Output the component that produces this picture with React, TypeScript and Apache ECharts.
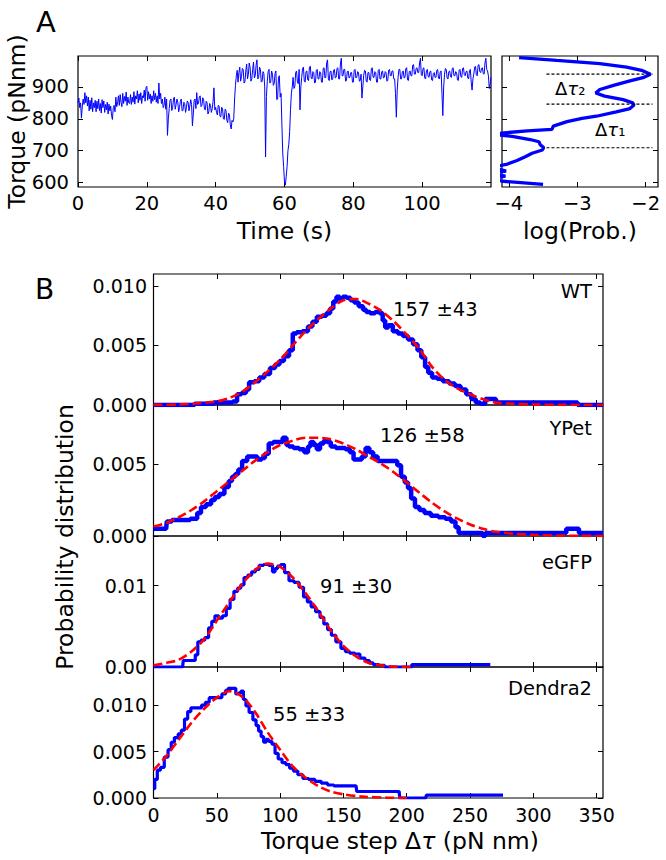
import React, { useEffect, useRef } from 'react';
import * as echarts from 'echarts';

// ---------- Panel A : torque trace (one sample every 0.25 s) ----------
const traceStep = 0.25;
const traceTorque = [
  850, 865, 835, 850, 802, 840, 862, 845, 882, 850, 872, 840, 868, 825, 858, 830, 866, 822, 850, 835,
  858, 822, 855, 832, 862, 826, 848, 818, 860, 835, 856, 820, 845, 828, 852, 815, 846, 825, 840, 810,
  798, 835, 842, 822, 868, 838, 850, 872, 842, 876, 852, 838, 880, 848, 870, 855, 884, 842, 868, 850,
  848, 876, 845, 868, 852, 885, 846, 872, 862, 888, 850, 878, 858, 882, 848, 872, 866, 890, 855, 898,
  902, 858, 885, 862, 878, 848, 872, 855, 888, 860, 880, 852, 872, 848, 912, 862, 880, 848, 862, 835,
  842, 868, 830, 862, 748, 800, 832, 858, 862, 826, 835, 862, 868, 830, 845, 862, 852, 822, 835, 855,
  862, 825, 826, 852, 848, 820, 835, 856, 852, 825, 840, 860, 845, 778, 815, 858, 862, 832, 882, 845,
  848, 868, 872, 838, 842, 866, 860, 830, 828, 855, 850, 815, 822, 848, 842, 820, 832, 855, 897, 828,
  836, 820, 812, 842, 840, 808, 806, 836, 832, 800, 798, 830, 826, 795, 788, 818, 812, 782, 768, 795,
  790, 800, 862, 905, 935, 952, 915, 945, 962, 918, 932, 958, 955, 912, 916, 950, 972, 925, 940, 975,
  962, 918, 925, 955, 978, 928, 935, 968, 985, 925, 930, 962, 955, 915, 918, 948, 942, 900, 680, 870,
  918, 948, 955, 912, 915, 950, 940, 905, 910, 942, 950, 860, 862, 930, 935, 868, 880, 780, 690, 650,
  600, 592, 620, 650, 700, 720, 760, 830, 880, 900, 930, 895, 900, 945, 950, 915, 910, 955, 828, 900,
  930, 958, 962, 918, 915, 948, 950, 922, 920, 962, 965, 928, 925, 948, 945, 912, 915, 952, 955, 925,
  925, 948, 945, 915, 915, 958, 960, 928, 930, 975, 985, 925, 920, 948, 950, 922, 925, 952, 955, 928,
  930, 958, 960, 925, 925, 972, 990, 935, 935, 955, 955, 918, 920, 948, 950, 928, 930, 945, 945, 915,
  915, 952, 955, 928, 930, 948, 945, 918, 920, 940, 865, 900, 935, 952, 950, 918, 915, 945, 945, 922,
  920, 958, 960, 930, 930, 948, 945, 915, 915, 952, 955, 925, 925, 948, 950, 928, 930, 948, 945, 918,
  920, 952, 955, 935, 935, 950, 950, 925, 925, 880, 805, 890, 930, 955, 955, 925, 925, 948, 950, 928,
  930, 958, 960, 922, 920, 948, 950, 935, 935, 968, 970, 940, 940, 958, 960, 945, 945, 975, 990, 938,
  935, 958, 960, 928, 925, 952, 955, 932, 930, 948, 950, 922, 920, 942, 945, 930, 930, 952, 955, 928,
  925, 948, 950, 880, 810, 900, 940, 958, 955, 928, 925, 948, 950, 932, 930, 958, 960, 935, 935, 948,
  945, 922, 920, 952, 955, 932, 930, 958, 960, 938, 935, 948, 950, 928, 925, 952, 955, 915, 890, 925,
  940, 962, 965, 938, 935, 968, 970, 948, 945, 958, 960, 942, 940, 975, 990, 955, 950, 935, 895, 910,
  930,
];

// ---------- Panel A : log(prob) vs torque ----------
const logProb = [
  -3.85, -3.30, -2.67, -2.28, -2.06, -1.93, -2.04, -2.23, -2.47, -2.67,
  -2.73, -2.60, -2.33, -2.19, -2.17, -2.23, -2.43, -2.72, -2.93, -3.15,
  -3.35, -3.37, -3.73, -4.07, -4.20, -3.93, -3.69, -3.56, -3.54, -3.49,
  -3.51, -3.66, -3.76, -3.88, -4.02, -4.25, -4.04, -4.30, -4.05, -4.30,
  -4.08, -3.50,
];
const logProbTorque = [
  992, 983, 973, 962, 952, 940, 929, 919, 905, 892,
  881, 871, 860, 850, 843, 832, 822, 808, 801, 791,
  777, 767, 762, 756, 751, 744, 735, 728, 718, 710,
  702, 692, 681, 669, 658, 648, 636, 630, 620, 612,
  604, 594,
];
const levelTorques = [940, 846, 709];
const levelSpan = [-3.45, -1.9];

// ---------- Panel B : torque-step distributions ----------
const stepNames = ['WT', 'YPet', 'eGFP', 'Dendra2'];
const stepFits = ['157 \u00b143', '126 \u00b158', '91 \u00b130', '55 \u00b133'];
const stepYMax = [0.0110, 0.00907, 0.0161, 0.0141];
const stepYTicks = [[0, 0.005, 0.01], [0, 0.005], [0, 0.01], [0, 0.005, 0.01]];
const stepYDecimals = [3, 3, 2, 3];

const wtHist = [
  [0, 0], [20, 0], [45, 0.0001], [50, 0.0002], [60, 0.0002], [65, 0.0003], [67, 0.0009], [72, 0.0010],
  [74, 0.0013], [77, 0.0019], [82, 0.0020], [85, 0.0023], [90, 0.0026], [94, 0.0031], [98, 0.0034],
  [101, 0.0037], [105, 0.0041], [109, 0.0046], [111, 0.0060], [115, 0.0061], [120, 0.0062], [124, 0.0066],
  [127, 0.0070], [131, 0.0074], [135, 0.0075], [138, 0.0077], [141, 0.0081], [143, 0.0087], [146, 0.0091],
  [148, 0.0089], [151, 0.0091], [154, 0.0090], [157, 0.0088], [160, 0.0086], [164, 0.0083], [167, 0.0080],
  [169, 0.0078], [173, 0.0077], [177, 0.0078], [180, 0.0077], [182, 0.0071], [184, 0.0065], [187, 0.0067],
  [191, 0.0062], [195, 0.0060], [199, 0.0058], [203, 0.0055], [207, 0.0051], [210, 0.0046], [213, 0.0040],
  [216, 0.0032], [218, 0.0027], [222, 0.0023], [226, 0.0022], [231, 0.0020], [236, 0.0018], [240, 0.0016],
  [245, 0.0013], [249, 0.0009], [253, 0.0005], [256, 0.0002], [260, 0.0001], [264, 0.0005], [269, 0.0005],
  [272, 0.0002], [300, 0.0002], [334, 0.0002], [336, 0], [355, 0],
];
const ypetHist = [
  [0, 0.0005], [10, 0.0005], [11, 0.0010], [18, 0.0011], [25, 0.0011], [33, 0.0012], [36, 0.0016],
  [39, 0.0020], [44, 0.0022], [47, 0.0025], [50, 0.0027], [54, 0.0029], [58, 0.0034], [61, 0.0038],
  [63, 0.0041], [66, 0.0043], [68, 0.0046], [72, 0.0052], [76, 0.0055], [80, 0.0055], [84, 0.0053],
  [87, 0.0054], [89, 0.0057], [93, 0.0064], [96, 0.0065], [100, 0.0065], [104, 0.0068], [106, 0.0063],
  [108, 0.0062], [113, 0.0061], [117, 0.0060], [121, 0.0058], [123, 0.0062], [125, 0.0065], [128, 0.0063],
  [130, 0.0060], [133, 0.0064], [136, 0.0066], [138, 0.0065], [142, 0.0062], [146, 0.0061], [150, 0.0061],
  [153, 0.0060], [157, 0.0058], [159, 0.0053], [163, 0.0053], [166, 0.0055], [169, 0.0061], [172, 0.0058],
  [175, 0.0055], [179, 0.0052], [187, 0.0052], [191, 0.0052], [194, 0.0049], [197, 0.0041], [200, 0.0037],
  [202, 0.0033], [205, 0.0026], [208, 0.0020], [212, 0.0018], [216, 0.0016], [222, 0.0014], [228, 0.0013],
  [233, 0.0012], [237, 0.0010], [240, 0.0006], [242, 0.0002], [259, 0.0002], [261, 0], [263, 0.0002],
  [325, 0.0002], [327, 0.0005], [335, 0.0005], [337, 0.0002], [355, 0.0002],
];
const egfpHist = [
  [0, 0], [23, 0], [24, 0.0008], [32, 0.0008], [34, 0.0015], [36, 0.0031], [39, 0.0033], [42, 0.0036],
  [45, 0.0048], [47, 0.0056], [50, 0.0063], [53, 0.0060], [56, 0.0063], [59, 0.0072], [62, 0.0083],
  [65, 0.0093], [68, 0.0097], [70, 0.0101], [73, 0.0110], [76, 0.0113], [79, 0.0117], [82, 0.0120],
  [85, 0.0125], [89, 0.0126], [93, 0.0125], [95, 0.0117], [97, 0.0121], [99, 0.0124], [102, 0.0126],
  [105, 0.0116], [109, 0.0106], [113, 0.0104], [117, 0.0098], [120, 0.0086], [123, 0.0080], [126, 0.0074],
  [130, 0.0068], [133, 0.0061], [136, 0.0053], [139, 0.0046], [142, 0.0039], [146, 0.0031], [150, 0.0023],
  [153, 0.0019], [157, 0.0017], [161, 0.0016], [165, 0.0011], [169, 0.0008], [172, 0.0005], [175, 0.0003],
  [181, 0.0002], [184, 0], [203, 0], [205, 0.0003], [266, 0.0003],
];
const dendraHist = [
  [0, 0.0010], [2, 0.0020], [4, 0.0030], [7, 0.0033], [10, 0.0044], [13, 0.0052], [15, 0.0060],
  [18, 0.0065], [21, 0.0069], [23, 0.0073], [26, 0.0085], [28, 0.0093], [31, 0.0097], [36, 0.0097],
  [40, 0.0100], [42, 0.0103], [46, 0.0108], [52, 0.0108], [56, 0.0112], [58, 0.0116], [60, 0.0118],
  [64, 0.0118], [66, 0.0112], [68, 0.0113], [70, 0.0115], [72, 0.0106], [74, 0.0099], [77, 0.0092],
  [80, 0.0084], [82, 0.0078], [84, 0.0072], [86, 0.0066], [88, 0.0060], [90, 0.0063], [92, 0.0061],
  [95, 0.0058], [97, 0.0048], [100, 0.0042], [103, 0.0038], [106, 0.0036], [109, 0.0032], [112, 0.0029],
  [116, 0.0025], [120, 0.0021], [125, 0.0020], [130, 0.0018], [135, 0.0016], [140, 0.0014], [145, 0.0013],
  [160, 0.0013], [161, 0.0007], [194, 0.0007], [195, 0], [215, 0], [216, 0.0003], [276, 0.0003],
];

const wtFit = [
  [0, 0.00001], [20, 0.00004], [30, 0.0001], [40, 0.0002], [50, 0.0003], [60, 0.0006], [70, 0.0011],
  [80, 0.0019], [90, 0.0028], [100, 0.0038], [110, 0.0050], [120, 0.0062], [130, 0.0072], [140, 0.0081],
  [150, 0.0088], [160, 0.0089], [170, 0.0085], [180, 0.0079], [190, 0.0070], [200, 0.0059], [210, 0.0047],
  [220, 0.0032], [230, 0.0021], [240, 0.0014], [250, 0.0009], [260, 0.0005], [270, 0.0002], [280, 0.00012],
  [300, 0.00004], [320, 0.00001], [355, 0],
];
const ypetFit = [
  [0, 0.00065], [10, 0.0009], [20, 0.0013], [30, 0.0018], [40, 0.0024], [50, 0.0031], [60, 0.0038],
  [70, 0.0045], [80, 0.0052], [90, 0.0058], [100, 0.0063], [110, 0.0066], [120, 0.0068], [130, 0.0068],
  [140, 0.0067], [150, 0.0064], [160, 0.0060], [170, 0.0055], [180, 0.0050], [190, 0.0044], [200, 0.0037],
  [210, 0.0030], [220, 0.0023], [230, 0.0017], [240, 0.0012], [250, 0.0008], [260, 0.0005], [270, 0.0003],
  [285, 0.00015], [300, 0.00008], [320, 0.00003], [355, 0],
];
const egfpFit = [
  [0, 0.0002], [10, 0.0005], [20, 0.0009], [30, 0.0019], [40, 0.0034], [50, 0.0057], [60, 0.0080],
  [70, 0.0102], [80, 0.0119], [90, 0.0127], [100, 0.0123], [110, 0.0110], [120, 0.0091], [130, 0.0069],
  [140, 0.0045], [150, 0.0026], [160, 0.0013], [170, 0.0005], [180, 0.0002], [190, 0.00005], [205, 0],
];
const dendraFit = [
  [0, 0.0030], [10, 0.0045], [20, 0.0063], [30, 0.0081], [40, 0.0096], [50, 0.0108], [60, 0.0115],
  [70, 0.0109], [80, 0.0093], [90, 0.0071], [100, 0.0052], [110, 0.0034], [120, 0.0022], [130, 0.0013],
  [140, 0.0007], [150, 0.0004], [165, 0.00015], [185, 0.00003], [200, 0],
];
const stepHists = [wtHist, ypetHist, egfpHist, dendraHist];
const stepFitCurves = [wtFit, ypetFit, egfpFit, dendraFit];

// ---------- tick values ----------
const timeTicks = [0, 20, 40, 60, 80, 100];
const torqueTicks = [600, 700, 800, 900];
const logTicks = [-4, -3, -2];
const stepTicks = [0, 50, 100, 150, 200, 250, 300, 350];

// ---------- layout ----------
const FONT = 'DejaVu Sans';
const gridsPx = [
  { left: 78, top: 56, width: 413, height: 131 },
  { left: 502, top: 56, width: 156, height: 131 },
  { left: 153.5, top: 274, width: 449.5, height: 131 },
  { left: 153.5, top: 405, width: 449.5, height: 131 },
  { left: 153.5, top: 536, width: 449.5, height: 131 },
  { left: 153.5, top: 667, width: 449.5, height: 131 },
];
const stepNameY = [291, 428, 562, 688];
const stepFitPos = [[393, 309], [380, 435], [320, 586], [273, 714]];

const minus = (v: number) => (v < 0 ? '\u2212' + String(Math.abs(v)) : String(v));

function axis(gridIndex: number, position: string, min: number, max: number, ticks: number[],
  label: null | { fmt: (v: number) => string; size: number; margin: number }) {
  return {
    type: 'value',
    gridIndex,
    position,
    min,
    max,
    axisLine: { show: false, onZero: false },
    axisTick: { show: true, inside: true, length: 5, customValues: ticks, lineStyle: { color: '#000', width: 1 } },
    axisLabel: label
      ? { show: true, customValues: ticks, formatter: label.fmt, color: '#000', fontSize: label.size, fontFamily: FONT, margin: label.margin }
      : { show: false },
    splitLine: { show: false },
  };
}

function txt(text: string, x: number, y: number, size: number, align = 'left', rotation = 0, rich?: any) {
  return {
    type: 'text',
    x,
    y,
    rotation,
    silent: true,
    style: {
      text,
      fill: '#000',
      fontSize: size,
      fontFamily: FONT,
      align,
      textAlign: align,
      verticalAlign: 'middle',
      textVerticalAlign: 'middle',
      rich,
    },
  };
}

function buildOption() {
  const xAxes: any[] = [];
  const yAxes: any[] = [];
  // grid 0: torque trace
  xAxes.push(axis(0, 'bottom', 0, 120, timeTicks, { fmt: minus, size: 19.5, margin: 6 }));
  xAxes.push(axis(0, 'top', 0, 120, timeTicks, null));
  yAxes.push(axis(0, 'left', 586, 997, torqueTicks, { fmt: minus, size: 19.5, margin: 9 }));
  yAxes.push(axis(0, 'right', 586, 997, torqueTicks, null));
  // grid 1: log prob
  xAxes.push(axis(1, 'bottom', -4.1, -1.82, logTicks, { fmt: minus, size: 19.5, margin: 6 }));
  xAxes.push(axis(1, 'top', -4.1, -1.82, logTicks, null));
  yAxes.push(axis(1, 'left', 586, 997, torqueTicks, null));
  yAxes.push(axis(1, 'right', 586, 997, torqueTicks, null));
  // grids 2..5: step distributions
  for (let p = 0; p < 4; p++) {
    const g = p + 2;
    const last = p === 3;
    xAxes.push(axis(g, 'bottom', 0, 355, stepTicks, last ? { fmt: minus, size: 19, margin: 7 } : null));
    xAxes.push(axis(g, 'top', 0, 355, stepTicks, null));
    const dec = stepYDecimals[p];
    yAxes.push(axis(g, 'left', 0, stepYMax[p], stepYTicks[p], { fmt: (v: number) => v.toFixed(dec), size: 19, margin: 6.5 }));
    yAxes.push(axis(g, 'right', 0, stepYMax[p], stepYTicks[p], null));
  }

  const series: any[] = [];
  series.push({
    type: 'line', xAxisIndex: 0, yAxisIndex: 0, symbol: 'none',
    data: traceTorque.map((v, i) => [i * traceStep, v]),
    lineStyle: { color: '#0000ff', width: 1 },
  });
  series.push({
    type: 'line', xAxisIndex: 2, yAxisIndex: 2, symbol: 'none',
    data: logProb.map((v, i) => [v, logProbTorque[i]]),
    lineStyle: { color: '#0000ff', width: 3.3 },
  });
  levelTorques.forEach((lv) => {
    series.push({
      type: 'line', xAxisIndex: 2, yAxisIndex: 2, symbol: 'none', z: 3,
      data: [[levelSpan[0], lv], [levelSpan[1], lv]],
      lineStyle: { color: '#000', width: 1.1, type: [3, 2] },
    });
  });
  for (let p = 0; p < 4; p++) {
    const idx = (p + 2) * 2;
    const thick = p < 2 ? 4.5 : 3.2;
    series.push({
      type: 'line', xAxisIndex: idx, yAxisIndex: idx, symbol: 'none', step: 'middle',
      data: stepHists[p],
      lineStyle: { color: '#0000ff', width: thick },
    });
    series.push({
      type: 'line', xAxisIndex: idx, yAxisIndex: idx, symbol: 'none', smooth: 0.3, z: 4,
      data: stepFitCurves[p],
      lineStyle: { color: '#ff0000', width: 2.6, type: [9, 4] },
    });
  }

  const tauRich = {
    d: { fontSize: 18, fontFamily: FONT, fill: '#000' },
    t: { fontSize: 18, fontFamily: FONT, fontStyle: 'italic', fill: '#000' },
    s: { fontSize: 18, fontFamily: FONT, fill: '#000' },
  };

  const graphic: any[] = [
    txt('A', 36, 22, 29),
    txt('B', 35, 289, 28),
    txt('Torque (pNnm)', 17, 121.5, 23.5, 'center', Math.PI / 2),
    txt('Time (s)', 284.5, 231, 23.5, 'center'),
    txt('log(Prob.)', 580, 231, 23.5, 'center'),
    txt('Probability distribution', 64.5, 537, 23.5, 'center', Math.PI / 2),
    txt('{n|Torque step \u0394}{i|\u03c4}{n| (pN nm)}', 400, 841, 23.5, 'center', 0, {
      n: { fontSize: 23.5, fontFamily: FONT, fill: '#000' },
      i: { fontSize: 23.5, fontFamily: FONT, fontStyle: 'italic', fill: '#000' },
    }),
    txt('{d|\u0394}{t|\u03c4}{s|\u2082}', 555, 88, 18, 'left', 0, tauRich),
    txt('{d|\u0394}{t|\u03c4}{s|\u2081}', 595, 129, 18, 'left', 0, tauRich),
  ];
  for (let p = 0; p < 4; p++) {
    graphic.push(txt(stepNames[p], 592, stepNameY[p], 19.5, 'right'));
    graphic.push(txt(stepFits[p], stepFitPos[p][0], stepFitPos[p][1], 19.5, 'left'));
  }

  return {
    animation: false,
    backgroundColor: '#ffffff',
    textStyle: { fontFamily: FONT },
    grid: gridsPx.map((g) => ({ ...g, show: true, borderColor: '#000', borderWidth: 1.2, backgroundColor: 'transparent', containLabel: false })),
    xAxis: xAxes,
    yAxis: yAxes,
    series,
    graphic,
  };
}

export default function App() {
  const ref = useRef<HTMLDivElement>(null);
  useEffect(() => {
    document.body.style.margin = '0';
    const chart = echarts.init(ref.current as HTMLDivElement, null, { renderer: 'svg' });
    chart.setOption(buildOption() as any);
    return () => chart.dispose();
  }, []);
  return (
    <div
      ref={ref}
      style={{ position: 'absolute', left: 0, top: 0, width: 666, height: 860, background: '#fff' }}
    />
  );
}
